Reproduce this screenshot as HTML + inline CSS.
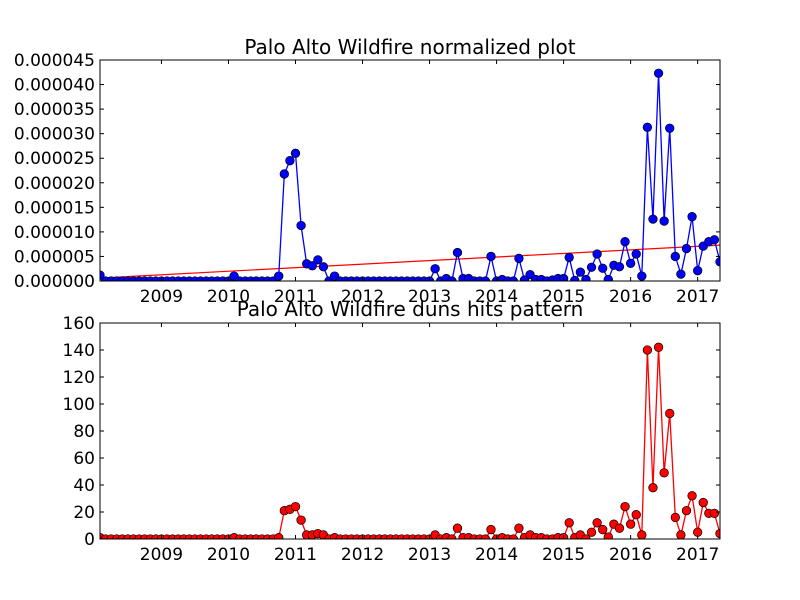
<!DOCTYPE html>
<html><head><meta charset="utf-8"><style>
body{margin:0;background:#fff}
svg{display:block;font-family:"DejaVu Sans","Liberation Sans",sans-serif}
</style></head><body>
<svg id="chart" width="800" height="600" viewBox="0 0 800 600" xmlns="http://www.w3.org/2000/svg">
<rect width="800" height="600" fill="#fff"/>
</svg>
<script>
const startYear = 2008, startMonth = 1; // Feb 2008
const normValues = [
1.2,0,0,0,0,0,0,0,0,0,0,0,
0,0,0,0,0,0,0,0,0,0,0,0,
1.0,0,0,0,0,0,0,0,1.0,21.8,24.5,26.0,
11.3,3.5,3.1,4.3,2.9,0,1.0,0,0,0,0,0,
0,0,0,0,0,0,0,0,0,0,0,0,
2.5,0,0.5,0,5.8,0.5,0.5,0,0,0,5.0,0,
0.3,0,0,4.6,0.2,1.3,0.3,0.3,0,0.2,0.5,0.5,
4.8,0.1,1.8,0.3,2.8,5.5,2.6,0.3,3.2,2.9,8,3.6,
5.5,1,31.3,12.6,42.3,12.2,31.1,5,1.4,6.6,13.1,2.1,
7.1,8,8.4,3.9];
const hitsValues = [
1,0,0,0,0,0,0,0,0,0,0,0,
0,0,0,0,0,0,0,0,0,0,0,0,
1,0,0,0,0,0,0,0,1,21,22,24,
14,3,3,4,3,0,1,0,0,0,0,0,
0,0,0,0,0,0,0,0,0,0,0,0,
3,0,1,0,8,1,1,0,0,0,7,0,
1,0,0,8,1,3,1,1,0,0,1,1,
12,1,3,0,5,12,7,1.5,11,8,24,11,
18,3,140,38,142,49,93,16,3,21,32,5,
27,19,19,4];
const trendValues = [0.6, 7.3]; // 1e-6 units, at first and last date
const xTickYears = [2009,2010,2011,2012,2013,2014,2015,2016,2017];
const normTicks = ["0.000000","0.000005","0.000010","0.000015","0.000020","0.000025","0.000030","0.000035","0.000040","0.000045"];
const hitsTicks = [0,20,40,60,80,100,120,140,160];

const svg = document.getElementById('chart');
const NS = 'http://www.w3.org/2000/svg';
function mk(tag, attrs, parent){const e=document.createElementNS(NS,tag);for(const k in attrs)e.setAttribute(k,attrs[k]);(parent||svg).appendChild(e);return e;}
const dates = normValues.map((_,i)=>startYear+(startMonth+i)/12);
const tMin = dates[0], tMax = dates[dates.length-1];
const L=100,R=720;
function xs(t){return L+(t-tMin)/(tMax-tMin)*(R-L);}

function drawPanel(name, top, bottom, yMax, tickVals, tickLabels, values, color, title, titleY, trend){
  const ys = v => bottom - v/yMax*(bottom-top);
  const g = mk('g',{});
  
  
  const clip = mk('clipPath',{id:name+'-clip'},g);
  mk('rect',{x:L,y:top,width:R-L,height:bottom-top},clip);
  const plot = mk('g',{'clip-path':'url(#'+name+'-clip)'},g);
  if(trend){
    const tl = mk('line',{x1:xs(tMin),y1:ys(trend[0]),x2:xs(tMax),y2:ys(trend[1]),stroke:'#ff0000','stroke-width':1.2},plot);
    
    
  }
  const pts = values.map((v,i)=>xs(dates[i]).toFixed(2)+','+ys(v).toFixed(2)).join(' ');
  const pl = mk('polyline',{points:pts,fill:'none',stroke:color,'stroke-width':1.3},plot);
  
  
  values.forEach((v,i)=>{
    const c = mk('circle',{cx:xs(dates[i]),cy:ys(v),r:4.3,fill:color,stroke:'#000','stroke-width':0.7},plot);
    
    
  });
  const fr = mk('rect',{x:L,y:top,width:R-L,height:bottom-top,fill:'none',stroke:'#000','stroke-width':1},g);
  
  
  xTickYears.forEach(yr=>{
    const x=xs(yr);
    mk('line',{x1:x,y1:bottom,x2:x,y2:bottom-4,stroke:'#000'},g);
    mk('line',{x1:x,y1:top,x2:x,y2:top+4,stroke:'#000'},g);
    const t=mk('text',{x:x,y:bottom+21,'text-anchor':'middle','font-size':17},g);
    t.textContent=yr;
    
    
  });
  tickVals.forEach((v,i)=>{
    const y=ys(v);
    mk('line',{x1:L,y1:y,x2:L+4,y2:y,stroke:'#000'},g);
    mk('line',{x1:R,y1:y,x2:R-4,y2:y,stroke:'#000'},g);
    const t=mk('text',{x:L-5,y:y+6,'text-anchor':'end','font-size':17},g);
    t.textContent=tickLabels[i];
    
    
  });
  const tt=mk('text',{x:(L+R)/2,y:titleY,'text-anchor':'middle','font-size':20},g);
  tt.textContent=title;
  
  
}
drawPanel('normalized',60,281,45,[0,5,10,15,20,25,30,35,40,45],normTicks,normValues,'#0000ff','Palo Alto Wildfire normalized plot',54,trendValues);
drawPanel('hits',323,539,160,hitsTicks,hitsTicks.map(String),hitsValues,'#ff0000','Palo Alto Wildfire duns hits pattern',316,null);
</script>
</body></html>
